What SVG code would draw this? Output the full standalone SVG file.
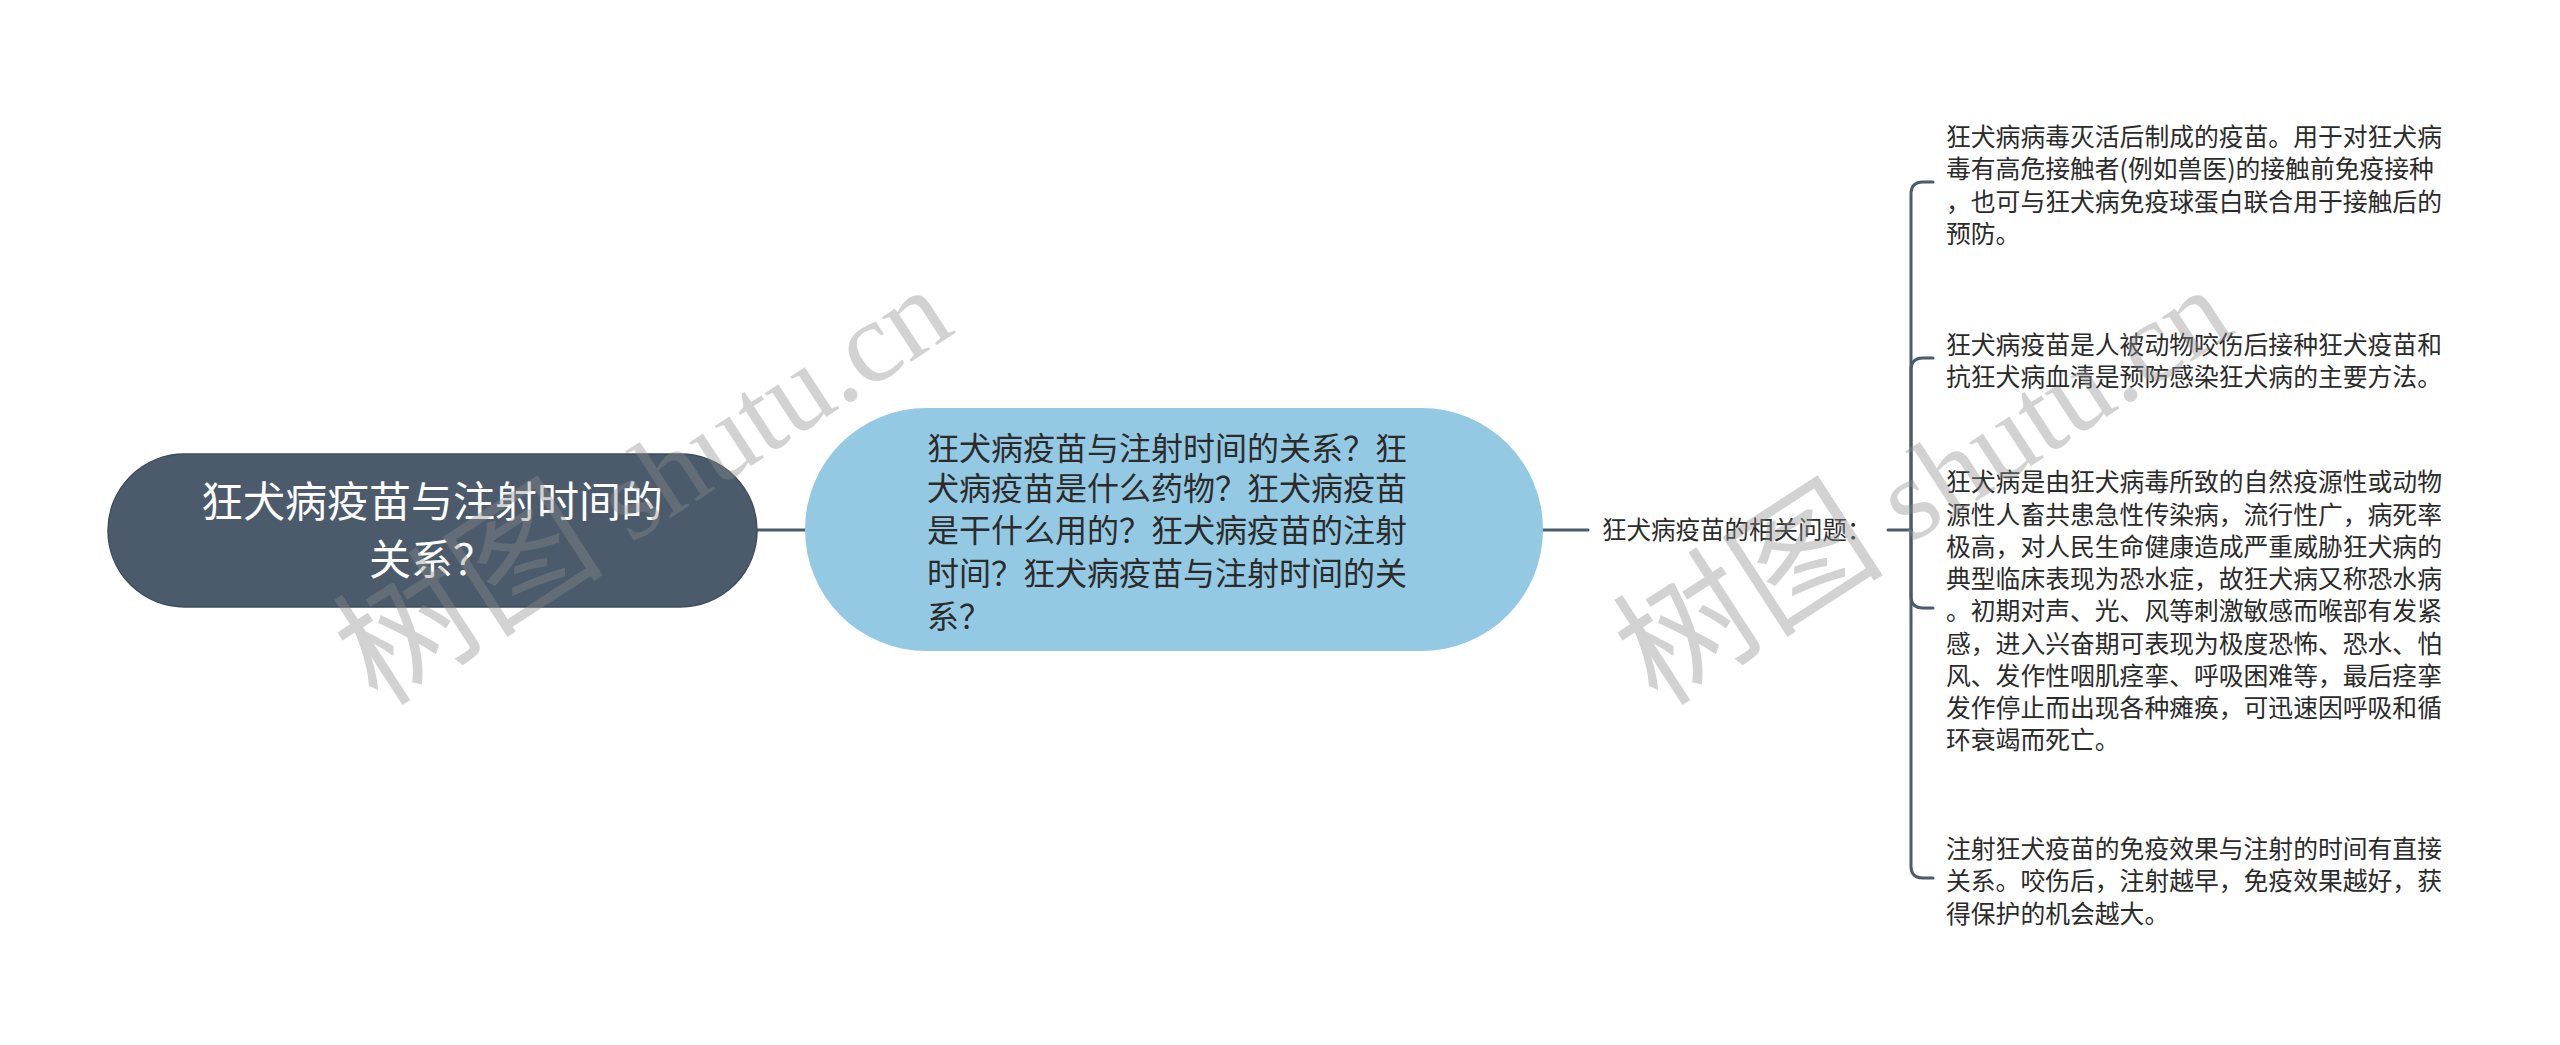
<svg xmlns="http://www.w3.org/2000/svg" width="2560" height="1045" viewBox="0 0 2560 1045">
<style>
.cn{font-family:"Noto Sans CJK SC","Noto Sans",sans-serif}
.root{font-size:42px;fill:#ffffff;text-anchor:middle}
.sub{font-size:32px;fill:#2b2b2b}
.lbl{font-size:24.5px;fill:#2b2b2b}
.leaf{font-size:24.8px;fill:#2b2b2b}
.wm{font-family:"Liberation Serif","Noto Sans CJK SC",serif;font-size:116px;fill:#8c8c8c;opacity:0.38}
.wmc{font-family:"Noto Sans CJK SC",sans-serif;font-size:136px}
.ln{fill:none;stroke:#4B5B6B;stroke-width:3;stroke-linecap:round}
</style>
<rect width="2560" height="1045" fill="#ffffff"/>
<g id="connectors">
<path class="ln" d="M757,530 H805"/>
<path class="ln" d="M1543,530 H1588"/>
<path class="ln" d="M1888,530 H1911"/>
<path class="ln" d="M1911,530 V194 Q1911,182 1923,182 H1933"/>
<path class="ln" d="M1911,530 V370 Q1911,358 1923,358 H1933"/>
<path class="ln" d="M1911,530 V596 Q1911,608 1923,608 H1933"/>
<path class="ln" d="M1911,530 V866 Q1911,878 1923,878 H1933"/>
</g>
<g id="root">
<rect x="108" y="454" width="649" height="153" rx="76.5" fill="#4B5B6B" stroke="#3E4C5A" stroke-width="1.5"/>
<text class="cn root" x="432" y="517">狂犬病疫苗与注射时间的</text>
<text class="cn root" x="432" y="575">关系？</text>
</g>
<g id="topic">
<rect x="805" y="408" width="738" height="243" rx="121.5" fill="#94C9E3"/>
<text class="cn sub" x="927" y="460">狂犬病疫苗与注射时间的关系？狂</text>
<text class="cn sub" x="927" y="500">犬病疫苗是什么药物？狂犬病疫苗</text>
<text class="cn sub" x="927" y="542">是干什么用的？狂犬病疫苗的注射</text>
<text class="cn sub" x="927" y="585">时间？狂犬病疫苗与注射时间的关</text>
<text class="cn sub" x="927" y="628">系？</text>
</g>
<g id="label">
<text class="cn lbl" x="1602" y="539">狂犬病疫苗的相关问题：</text>
</g>
<g id="leaf1">
<text class="cn leaf" x="1946" y="146">狂犬病病毒灭活后制成的疫苗。用于对狂犬病</text>
<text class="cn leaf" x="1946" y="178">毒有高危接触者(例如兽医)的接触前免疫接种</text>
<text class="cn leaf" x="1946" y="211">，也可与狂犬病免疫球蛋白联合用于接触后的</text>
<text class="cn leaf" x="1946" y="243">预防。</text>
</g>
<g id="leaf2">
<text class="cn leaf" x="1946" y="354">狂犬病疫苗是人被动物咬伤后接种狂犬疫苗和</text>
<text class="cn leaf" x="1946" y="386">抗狂犬病血清是预防感染狂犬病的主要方法。</text>
</g>
<g id="leaf3">
<text class="cn leaf" x="1946" y="491">狂犬病是由狂犬病毒所致的自然疫源性或动物</text>
<text class="cn leaf" x="1946" y="524">源性人畜共患急性传染病，流行性广，病死率</text>
<text class="cn leaf" x="1946" y="556">极高，对人民生命健康造成严重威胁狂犬病的</text>
<text class="cn leaf" x="1946" y="588">典型临床表现为恐水症，故狂犬病又称恐水病</text>
<text class="cn leaf" x="1946" y="620">。初期对声、光、风等刺激敏感而喉部有发紧</text>
<text class="cn leaf" x="1946" y="653">感，进入兴奋期可表现为极度恐怖、恐水、怕</text>
<text class="cn leaf" x="1946" y="685">风、发作性咽肌痉挛、呼吸困难等，最后痉挛</text>
<text class="cn leaf" x="1946" y="717">发作停止而出现各种瘫痪，可迅速因呼吸和循</text>
<text class="cn leaf" x="1946" y="749">环衰竭而死亡。</text>
</g>
<g id="leaf4">
<text class="cn leaf" x="1946" y="858">注射狂犬疫苗的免疫效果与注射的时间有直接</text>
<text class="cn leaf" x="1946" y="890">关系。咬伤后，注射越早，免疫效果越好，获</text>
<text class="cn leaf" x="1946" y="923">得保护的机会越大。</text>
</g>
<g id="watermarks">
<text class="wm" x="378" y="708" transform="rotate(-33 378 708)"><tspan class="wmc">树图</tspan> shutu.cn</text>
<text class="wm" x="1658" y="708" transform="rotate(-33 1658 708)"><tspan class="wmc">树图</tspan> shutu.cn</text>
</g>
</svg>
